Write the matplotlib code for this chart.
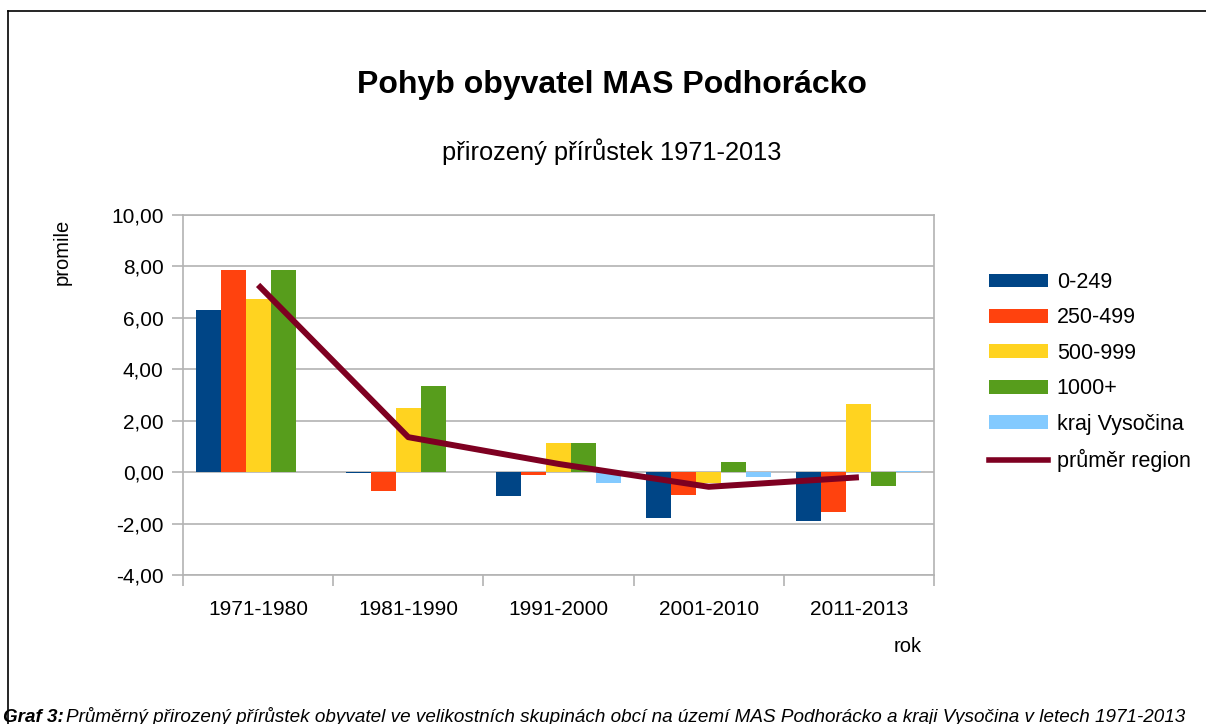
import numpy as np
import matplotlib
matplotlib.use('Agg')
import matplotlib.pyplot as plt
from matplotlib.patches import Patch
from matplotlib.lines import Line2D
from matplotlib.ticker import FuncFormatter, FixedLocator

plt.rcParams['font.family'] = ['Liberation Sans', 'DejaVu Sans']

# data (promile)
periods = ['1971-1980', '1981-1990', '1991-2000', '2001-2010', '2011-2013']
groups = ['0-249', '250-499', '500-999', '1000+', 'kraj Vysočina']
v_0_249 = [6.30, -0.05, -0.93, -1.78, -1.91]
v_250_499 = [7.86, -0.73, -0.10, -0.89, -1.54]
v_500_999 = [6.73, 2.50, 1.14, -0.42, 2.65]
v_1000 = [7.86, 3.35, 1.14, 0.39, -0.54]
v_kraj = [np.nan, np.nan, -0.41, -0.18, 0.04]
prumer_region = [7.28, 1.36, 0.32, -0.57, -0.20]

colors = ['#004586', '#FF420E', '#FFD320', '#579D1C', '#83CAFF']
line_color = '#7E0021'
grid_color = '#b3b3b3'

W, H = 1206, 724
fig = plt.figure(figsize=(W / 100, H / 100), dpi=100)

# outer frame (left and top edges visible)
fig.add_artist(Line2D([8 / W, 8 / W], [0, 1 - 11 / H], color='black', lw=1.2))
fig.add_artist(Line2D([8 / W, 1], [1 - 11 / H, 1 - 11 / H], color='black', lw=1.2))

ax = fig.add_axes([183 / W, 1 - 575 / H, (934 - 183) / W, (575 - 215) / H])

x = np.arange(len(periods))
bw = 1 / 6
series = [v_0_249, v_250_499, v_500_999, v_1000, v_kraj]
for i, (vals, c) in enumerate(zip(series, colors)):
    ax.bar(x + (i - 2) * bw, vals, width=bw, color=c, zorder=2)

ax.plot(x, prumer_region, color=line_color, lw=4.3, zorder=3,
        solid_capstyle='butt')

ax.set_xlim(-0.5, len(periods) - 0.5)
ax.set_ylim(-4, 10)
ax.set_yticks(np.arange(-4, 10.1, 2))
ax.yaxis.set_major_formatter(FuncFormatter(lambda v, p: f'{v:.2f}'.replace('.', ',')))
ax.grid(axis='y', color=grid_color, lw=1.2, zorder=0)
ax.set_axisbelow(True)

ax.set_xticks(x)
ax.set_xticklabels(periods)
ax.xaxis.set_minor_locator(FixedLocator(np.arange(-0.5, len(periods), 1)))
ax.tick_params(axis='x', which='major', length=0, pad=18, labelsize=15)
ax.tick_params(axis='x', which='minor', length=8, color=grid_color, width=1.2)
ax.tick_params(axis='y', length=8, color=grid_color, width=1.2, pad=6, labelsize=15)
for s in ax.spines.values():
    s.set_color(grid_color)
    s.set_linewidth(1.2)

fig.text(612 / W, 1 - 85 / H, 'Pohyb obyvatel MAS Podhorácko', ha='center', va='center',
         fontsize=23, fontweight='bold')
fig.text(612 / W, 1 - 152 / H, 'přirozený přírůstek 1971-2013', ha='center', va='center',
         fontsize=18.3)
fig.text(62 / W, 1 - 252 / H, 'promile', rotation=90, ha='center', va='center', fontsize=14.5)
fig.text(908 / W, 1 - 646 / H, 'rok', ha='center', va='center', fontsize=14.5)

handles = [Patch(facecolor=c, edgecolor='none') for c in colors]
handles.append(Line2D([], [], color=line_color, lw=4))
fig.legend(handles, groups + ['průměr region'], loc='upper left',
           bbox_to_anchor=(989 / W, 1 - 272 / H), frameon=False, fontsize=15.5,
           handlelength=2.75, handleheight=0.6, handletextpad=0.4,
           labelspacing=0.67, borderaxespad=0, borderpad=0)

fig.text(3 / W, 1 - 722 / H, 'Graf 3:', ha='left', va='baseline', fontsize=13.6,
         fontweight='bold', fontstyle='italic')
fig.text(66 / W, 1 - 722 / H,
         'Průměrný přirozený přírůstek obyvatel ve velikostních skupinách obcí '
         'na území MAS Podhorácko a kraji Vysočina v letech 1971-2013',
         ha='left', va='baseline', fontsize=13.6, fontstyle='italic')

fig.savefig('out.png', dpi=100)
